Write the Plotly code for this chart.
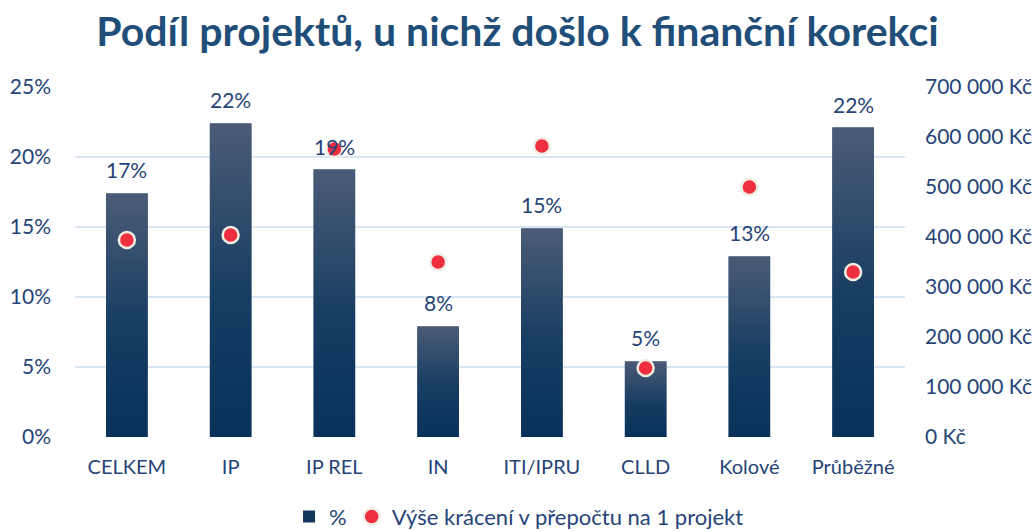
import plotly.graph_objects as go

# data
categories = ["CELKEM", "IP", "IP REL", "IN", "ITI/IPRU", "CLLD", "Kolové", "Průběžné"]
share_pct = [17.4, 22.4, 19.1, 7.9, 14.9, 5.4, 12.9, 22.1]
cut_per_project = [394000, 404000, 576000, 350000, 582000, 138000, 500000, 330000]
left_ticks = [0, 5, 10, 15, 20, 25]
right_ticks = [0, 100000, 200000, 300000, 400000, 500000, 600000, 700000]

FONT = "Lato"
TXT = "#264478"
BAR_W = 0.4

idx = list(range(len(categories)))

fig = go.Figure()

# bars (legend entry)
fig.add_trace(go.Bar(
    x=idx, y=share_pct, width=BAR_W, name="%",
    marker=dict(color="#12385e", line=dict(width=0)),
    hoverinfo="skip",
))

# gradient overlay on each bar
for i, v in zip(idx, share_pct):
    fig.add_trace(go.Scatter(
        x=[i - BAR_W / 2, i - BAR_W / 2, i + BAR_W / 2, i + BAR_W / 2, i - BAR_W / 2],
        y=[0, v, v, 0, 0],
        mode="none", fill="toself", showlegend=False, hoverinfo="skip",
        fillgradient=dict(type="vertical", start=0, stop=v,
                          colorscale=[[0, "#08325a"], [0.45, "#163d62"], [1, "#4b5b77"]]),
    ))

fig.add_trace(go.Scatter(
    x=idx, y=cut_per_project, yaxis="y2", mode="markers",
    name="Výše krácení v přepočtu na 1 projekt",
    marker=dict(size=16, color="#ef2f3f", line=dict(color="#f1ede2", width=2.5)),
))

# bar value labels
for i, v in zip(idx, share_pct):
    fig.add_annotation(x=i, y=v, text=f"{round(v):.0f}%", showarrow=False,
                       yanchor="bottom", yshift=9,
                       font=dict(family=FONT, size=21, color=TXT))

fig.update_layout(
    width=1035, height=531,
    paper_bgcolor="white", plot_bgcolor="white",
    margin=dict(l=75, r=130, t=87, b=94, autoexpand=False),
    font=dict(family=FONT, size=20, color=TXT),
    title=dict(text="<b>Podíl projektů, u nichž došlo k finanční korekci</b>",
               x=0.5, xanchor="center", y=0.94, yanchor="middle",
               font=dict(family=FONT, size=41, color="#1f4e79")),
    xaxis=dict(range=[-0.5, len(categories) - 0.5], tickvals=idx, ticktext=categories,
               showgrid=False, zeroline=False, showline=False, ticks="",
               ticklabelstandoff=16, tickfont=dict(size=20, color=TXT)),
    yaxis=dict(range=[0, 25], tickvals=left_ticks, ticktext=[f"{t}%" for t in left_ticks],
               showgrid=True, gridcolor="#d9e4f4", gridwidth=2, zeroline=False,
               ticklabelstandoff=23, tickfont=dict(size=21, color=TXT)),
    yaxis2=dict(range=[0, 700000], overlaying="y", side="right", tickvals=right_ticks,
                ticktext=[f"{t:,}".replace(",", " ") + " Kč" for t in right_ticks],
                showgrid=False, zeroline=False, ticklabelstandoff=19,
                tickfont=dict(size=21, color=TXT)),
    legend=dict(orientation="h", x=0.535, xanchor="center", y=-0.228, yanchor="middle",
                font=dict(size=22, color=TXT), itemwidth=30),
    showlegend=True,
)

fig.write_html("out.html", config={"displayModeBar": False},
               post_script="document.body.style.margin='0';")
